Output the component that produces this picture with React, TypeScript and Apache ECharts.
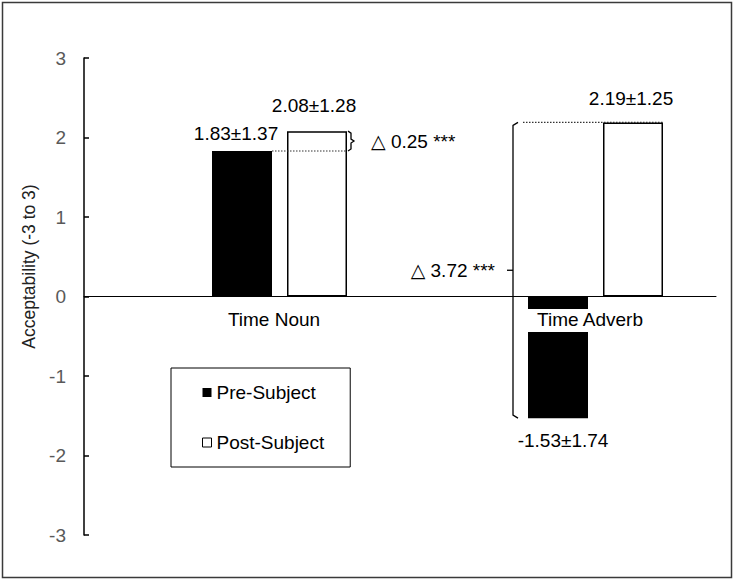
import React, { useEffect, useRef } from "react";
import * as echarts from "echarts";

const categories = ["Time Noun", "Time Adverb"];
const seriesNames = ["Pre-Subject", "Post-Subject"];
const preMeans = [1.83, -1.53];
const preSDs = [1.37, 1.74];
const postMeans = [2.08, 2.19];
const postSDs = [1.28, 1.25];
const yMin = -3;
const yMax = 3;
const yInterval = 1;
const yAxisTitle = "Acceptability (-3 to 3)";

const FONT = 'Arial, "Liberation Sans", "DejaVu Sans", sans-serif';

export default function App() {
  const ref = useRef<HTMLDivElement>(null);
  useEffect(() => {
    if (!ref.current) return;
    const chart = echarts.init(ref.current, undefined, { renderer: "svg" });
    const fmt = (sds: number[]) => (p: any) =>
      `${Number(p.value).toFixed(2)}±${sds[p.dataIndex].toFixed(2)}`;
    const preLabelCfg = [
      { position: "top", distance: 8, offset: [-6, 0] },
      { position: "bottom", distance: 13, offset: [5, 0] },
    ];
    const postLabelCfg = [
      { position: "top", distance: 16, offset: [-3, 0] },
      { position: "top", distance: 14, offset: [-2, 0] },
    ];
    const gridTop = 58;
    const gridBottom = 45;
    const plotH = 580 - gridTop - gridBottom;
    const zeroOffset = -plotH * (0 - yMin) / (yMax - yMin);
    const option: any = {
      animation: false,
      textStyle: { fontFamily: FONT },
      grid: { left: 84, right: 17, top: gridTop, bottom: gridBottom },
      legend: {
        data: seriesNames,
        orient: "vertical",
        left: 171,
        top: 368,
        icon: "rect",
        itemWidth: 9,
        itemHeight: 9,
        itemGap: 31,
        padding: [15, 26, 15, 31],
        borderColor: "#000",
        borderWidth: 1,
        itemStyle: { borderWidth: 1 },
        textStyle: { fontSize: 19, color: "#000", fontFamily: FONT },
      },
      xAxis: {
        type: "category",
        data: categories,
        z: 10,
        offset: zeroOffset,
        axisLine: { onZero: false, lineStyle: { color: "#000", width: 1 } },
        axisTick: { show: false },
        axisLabel: {
          margin: 15,
          formatter: (v: string, i: number) => (i === 0 ? `{sp|}{t|${v}}` : `{sp|}{w|${v}}`),
          rich: {
            sp: { width: 64, height: 18 },
            t: { fontSize: 19, color: "#000", lineHeight: 18, padding: [1, 10, 3, 10], fontFamily: FONT },
            w: {
              fontSize: 19,
              color: "#000",
              lineHeight: 18,
              padding: [1, 10, 3, 10],
              backgroundColor: "#fff",
              fontFamily: FONT,
            },
          },
        },
      },
      yAxis: {
        type: "value",
        min: yMin,
        max: yMax,
        interval: yInterval,
        name: yAxisTitle,
        nameLocation: "middle",
        nameRotate: 90,
        nameGap: 37,
        nameTextStyle: { fontSize: 17.5, color: "#222", padding: [0, 0, 0, 60], fontFamily: FONT },
        splitLine: { show: false },
        axisLine: { show: true, lineStyle: { color: "#000", width: 1.5 } },
        axisTick: { show: true, inside: true, length: 5, lineStyle: { color: "#000", width: 1.5 } },
        axisLabel: { fontSize: 19, color: "#595959", margin: 18, fontFamily: FONT },
      },
      series: [
        { name: "spacer", type: "bar", barWidth: 60, barGap: "25%", data: ["-", "-"] },
        {
          name: seriesNames[0],
          type: "bar",
          barWidth: 60,
          barGap: "25%",
          itemStyle: { color: "#000" },
          label: { show: true, fontSize: 19, color: "#000", formatter: fmt(preSDs), fontFamily: FONT },
          data: preMeans.map((v, i) => ({ value: v, label: preLabelCfg[i] })),
        },
        {
          name: seriesNames[1],
          type: "bar",
          barWidth: 60,
          barGap: "25%",
          itemStyle: { color: "#fff", borderColor: "#000", borderWidth: 1.5 },
          label: { show: true, fontSize: 19, color: "#000", formatter: fmt(postSDs), fontFamily: FONT },
          data: postMeans.map((v, i) => ({ value: v, label: postLabelCfg[i] })),
        },
      ],
    };
    chart.setOption(option);

    const yp = (v: number) => chart.convertToPixel({ yAxisIndex: 0 }, v) as number;
    const xp = (i: number) => chart.convertToPixel({ xAxisIndex: 0 }, i) as number;
    const cx0 = xp(0);
    const cx1 = xp(1);
    const deltaText = (i: number) => `△ ${(postMeans[i] - preMeans[i]).toFixed(2)} ***`;
    const dotted = { stroke: "#333", lineWidth: 1.2, lineDash: [1.5, 1.5] };
    const solid = { stroke: "#000", lineWidth: 1.3, fill: "none" };
    const txt = { fontSize: 19, fill: "#000", fontFamily: FONT, verticalAlign: "middle" };

    const t0 = yp(postMeans[0]);
    const b0 = yp(preMeans[0]);
    const m0 = (t0 + b0) / 2;
    const bx0 = cx0 + 106;
    const t1 = yp(postMeans[1]);
    const b1 = yp(preMeans[1]);
    const m1 = (t1 + b1) / 2;
    const bx1 = cx1 - 45;

    chart.setOption({
      graphic: [
        {
          type: "rect",
          id: "frame",
          shape: { x: 2.5, y: 2.5, width: 729, height: 575 },
          style: { fill: "none", stroke: "#3a3a3a", lineWidth: 1.5 },
          silent: true,
        },
        {
          type: "line",
          id: "dot0",
          shape: { x1: cx0 + 30, y1: b0, x2: cx0 + 105, y2: b0 },
          style: dotted,
          z: 20,
        },
        {
          type: "polyline",
          id: "brace0",
          shape: {
            points: [
              [bx0, t0],
              [bx0 + 3, t0 + 2],
              [bx0 + 3, m0 - 2],
              [bx0 + 6, m0],
              [bx0 + 3, m0 + 2],
              [bx0 + 3, b0 - 2],
              [bx0, b0],
            ],
          },
          style: solid,
          z: 20,
        },
        { type: "text", id: "delta0", x: bx0 + 23, y: m0, style: { ...txt, text: deltaText(0), align: "left" }, z: 20 },
        {
          type: "line",
          id: "dot1",
          shape: { x1: cx1 - 35, y1: t1, x2: cx1 + 105, y2: t1 },
          style: dotted,
          z: 20,
        },
        {
          type: "polyline",
          id: "brace1",
          shape: {
            points: [
              [bx1 + 5, t1],
              [bx1, t1 + 3],
              [bx1, b1 - 3],
              [bx1 + 5, b1],
            ],
          },
          style: solid,
          z: 20,
        },
        {
          type: "line",
          id: "tick1",
          shape: { x1: bx1 - 6, y1: m1, x2: bx1, y2: m1 },
          style: solid,
          z: 20,
        },
        { type: "text", id: "delta1", x: bx1 - 18, y: m1, style: { ...txt, text: deltaText(1), align: "right" }, z: 20 },
      ],
    });

    return () => chart.dispose();
  }, []);
  return (
    <div
      ref={ref}
      style={{ position: "absolute", left: 0, top: 0, width: 733, height: 580, background: "#fff" }}
    />
  );
}
